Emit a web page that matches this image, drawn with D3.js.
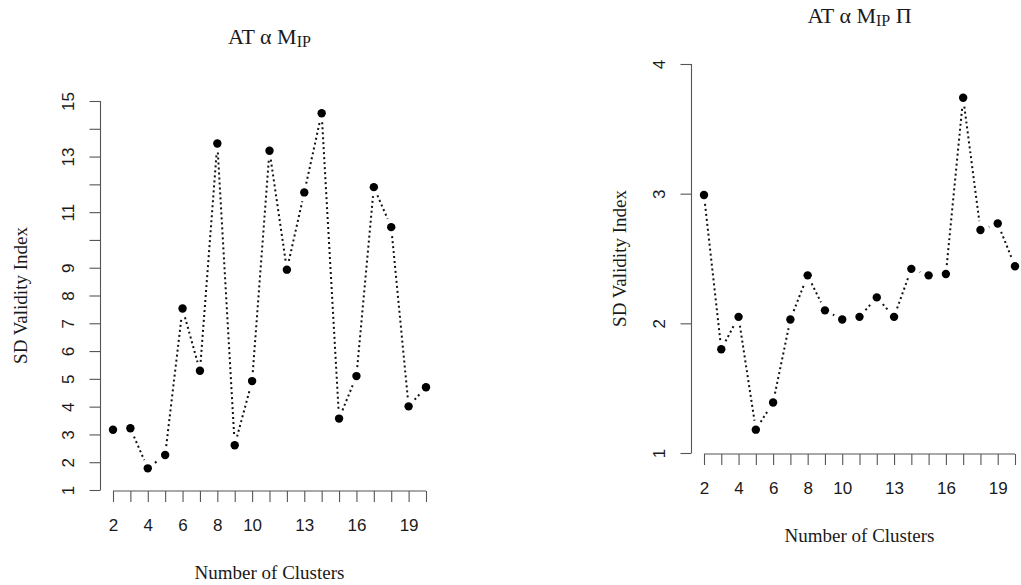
<!DOCTYPE html>
<html>
<head>
<meta charset="utf-8">
<script src="https://cdn.jsdelivr.net/npm/d3@7"></script>
<style>
  html, body { margin: 0; padding: 0; background: #fff; }
</style>
</head>
<body>
<div id="chart"></div>
<script>
// data
const clusters = [2, 3, 4, 5, 6, 7, 8, 9, 10, 11, 12, 13, 14, 15, 16, 17, 18, 19, 20];
const sdMip = [3.17, 3.22, 1.78, 2.26, 7.53, 5.29, 13.47, 2.61, 4.92, 13.21, 8.93,
               11.71, 14.56, 3.57, 5.10, 11.90, 10.46, 4.01, 4.70];
const sdMipPi = [2.99, 1.80, 2.05, 1.18, 1.39, 2.03, 2.37, 2.10, 2.03, 2.05, 2.20,
                 2.05, 2.42, 2.37, 2.38, 3.74, 2.72, 2.77, 2.44];
const xTickLabels = [2, 4, 6, 8, 10, 13, 16, 19];
const yTicksMip = [1, 2, 3, 4, 5, 6, 7, 8, 9, 10, 11, 12, 13, 14, 15];
const yLabelsMip = [1, 2, 3, 4, 5, 6, 7, 8, 9, 11, 13, 15];
const yTicksMipPi = [1, 2, 3, 4];
const yLabelsMipPi = [1, 2, 3, 4];

class Chart {
    constructor() {
        const attrs = {
            svgWidth: 1021,
            svgHeight: 585,
            container: "#chart",
            axisColor: "#555",
            textFill: "#1a1a1a",
            tickFont: "'Liberation Sans', Arial, sans-serif",
            titleFont: "'Liberation Serif', 'Times New Roman', serif",
            panels: []
        };
        this.getState = () => attrs;
        this.setState = (d) => Object.assign(attrs, d);
        Object.keys(attrs).forEach((key) => {
            this[key] = function (_) {
                if (!arguments.length) return attrs[key];
                attrs[key] = _;
                return this;
            };
        });
        this.initializeEnterExitUpdatePattern();
    }

    render() {
        const { container, svgWidth, svgHeight, panels } = this.getState();
        const svg = d3.select(container)
            ._add({ tag: "svg", className: "svg-chart-container" })
            .attr("width", svgWidth)
            .attr("height", svgHeight);

        panels.forEach((p, i) => {
            const g = svg._add({ tag: "g", className: "panel-" + i });
            this.drawPanel(g, p);
        });
        return this;
    }

    drawPanel(g, p) {
        const { axisColor, textFill, tickFont, titleFont } = this.getState();

        const x = d3.scaleLinear().domain([2, 20]).range(p.xRange);
        const y = d3.scaleLinear().domain(p.yDomain).range(p.yRange);
        const axisY = p.yRange[0] + 1;
        const axisX = p.xRange[0] - 12.5;

        // x axis
        const xAxis = d3.axisBottom(x)
            .tickValues(clusters)
            .tickSize(11)
            .tickFormat(d => xTickLabels.includes(d) ? d : "");
        const gx = g._add({ tag: "g", className: "x-axis" })
            .attr("transform", `translate(0,${axisY})`)
            .call(xAxis);
        gx.select(".domain").attr("d", `M${p.xRange[0]},0H${p.xRange[1]}`);

        // y axis
        const yAxis = d3.axisLeft(y)
            .tickValues(p.yTicks)
            .tickSize(11)
            .tickFormat(d => p.yLabels.includes(d) ? d : "");
        const gy = g._add({ tag: "g", className: "y-axis" })
            .attr("transform", `translate(${axisX},0)`)
            .call(yAxis);
        gy.select(".domain").attr("d", `M0,${p.yRange[0]}V${p.yRange[1]}`);

        [gx, gy].forEach(a => {
            a.selectAll(".domain, .tick line").attr("stroke", axisColor).attr("stroke-width", 1.1);
            a.selectAll("text")
                .attr("fill", textFill)
                .attr("font-family", tickFont)
                .attr("font-size", "17px");
        });
        gx.selectAll("text").attr("y", 31).attr("dy", 0).attr("dominant-baseline", "auto")
            .attr("transform", "translate(0,9)");
        gy.selectAll("text")
            .attr("x", 0).attr("dy", 0)
            .attr("text-anchor", "middle")
            .attr("transform", "translate(-27,0) rotate(-90)");

        // dotted line with gaps round the points (R type = "b")
        const pts = clusters.map((c, i) => ({ c, v: p.values[i], px: x(c), py: y(p.values[i]) }));
        const segs = d3.pairs(pts).map(([a, b]) => {
            const dx = b.px - a.px, dy = b.py - a.py;
            const len = Math.hypot(dx, dy);
            const gap = 9;
            return {
                x1: a.px + dx * gap / len, y1: a.py + dy * gap / len,
                x2: b.px - dx * gap / len, y2: b.py - dy * gap / len,
                show: len > gap * 2
            };
        }).filter(s => s.show);

        g._add({ tag: "line", className: "seg", data: segs })
            .attr("x1", d => d.x1).attr("y1", d => d.y1)
            .attr("x2", d => d.x2).attr("y2", d => d.y2)
            .attr("stroke", "#111")
            .attr("stroke-width", 2)
            .attr("stroke-dasharray", "2,3");

        g._add({ tag: "circle", className: "pt", data: pts })
            .attr("cx", d => d.px)
            .attr("cy", d => d.py)
            .attr("r", 4.2)
            .attr("fill", "#000");

        // titles
        const midX = (axisX + p.xRange[1] + 12.5) / 2;
        const title = g._add({ tag: "text", className: "title" })
            .attr("x", midX)
            .attr("y", p.titleY)
            .attr("text-anchor", "middle")
            .attr("font-family", titleFont)
            .attr("font-size", "22px")
            .attr("fill", textFill);
        title.selectAll("tspan").remove();
        title.append("tspan").text("AT α M");
        title.append("tspan").attr("font-size", "16px").attr("dy", 3).text("IP");
        if (p.withPi) title.append("tspan").attr("dy", -3).text(" Π");

        g._add({ tag: "text", className: "x-title" })
            .attr("x", midX)
            .attr("y", axisY + 88)
            .attr("text-anchor", "middle")
            .attr("font-family", titleFont)
            .attr("font-size", "19px")
            .attr("fill", textFill)
            .text("Number of Clusters");

        g._add({ tag: "text", className: "y-title" })
            .attr("transform", `translate(${p.yTitleX},${(p.yRange[0] + p.yRange[1]) / 2}) rotate(-90)`)
            .attr("text-anchor", "middle")
            .attr("font-family", titleFont)
            .attr("font-size", "19px")
            .attr("fill", textFill)
            .text("SD Validity Index");
    }

    initializeEnterExitUpdatePattern() {
        d3.selection.prototype._add = function (params) {
            const container = this;
            const className = params.className;
            const data = params.data || [className];
            let selection = container.selectAll("." + className).data(data);
            selection.exit().remove();
            selection = selection.enter().append(params.tag).merge(selection);
            selection.attr("class", className);
            return selection;
        };
    }
}

new Chart()
    .panels([
        {
            values: sdMip, yDomain: [1, 15], yRange: [490, 101],
            xRange: [113, 426], yTicks: yTicksMip, yLabels: yLabelsMip,
            titleY: 44, yTitleX: 27, withPi: false
        },
        {
            values: sdMipPi, yDomain: [1, 4], yRange: [453, 64],
            xRange: [704, 1015], yTicks: yTicksMipPi, yLabels: yLabelsMipPi,
            titleY: 23, yTitleX: 626, withPi: true
        }
    ])
    .render();
</script>
</body>
</html>
